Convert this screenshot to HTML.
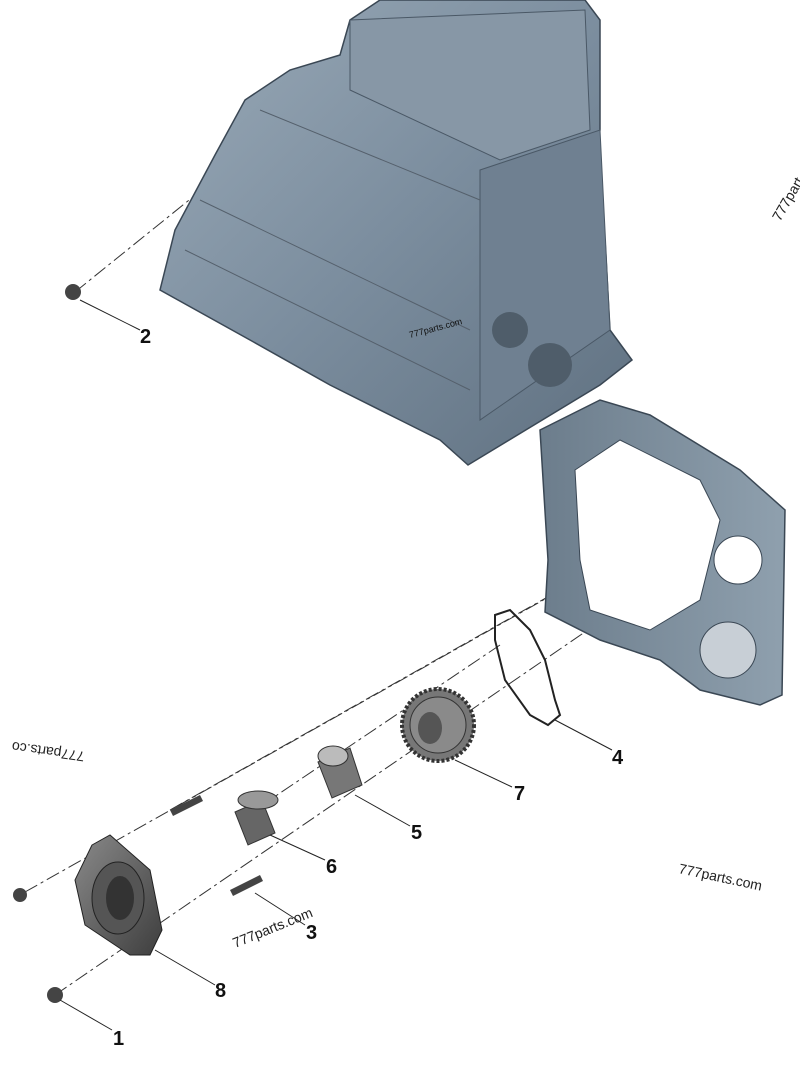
<!DOCTYPE html>
<html><head><style>
body{margin:0;background:#fff;width:800px;height:1067px;overflow:hidden}
svg{display:block}
.l{font:bold 20px "Liberation Sans",sans-serif;fill:#111}
.w{font:14px "Liberation Sans",sans-serif;fill:#222}
</style></head><body>
<svg width="800" height="1067" viewBox="0 0 800 1067">
<defs>
<linearGradient id="g1" x1="0" y1="0" x2="1" y2="1"><stop offset="0" stop-color="#9aaab8"/><stop offset="0.5" stop-color="#7b8d9e"/><stop offset="1" stop-color="#5f7080"/></linearGradient>
<linearGradient id="g2" x1="0" y1="0" x2="1" y2="0"><stop offset="0" stop-color="#6c7d8c"/><stop offset="1" stop-color="#8fa0ae"/></linearGradient>
<linearGradient id="g3" x1="0" y1="0" x2="1" y2="1"><stop offset="0" stop-color="#8a8a8a"/><stop offset="1" stop-color="#3e3e3e"/></linearGradient>
</defs>
<g stroke="#333" stroke-width="1" fill="none" stroke-dasharray="14,4,3,4">
<line x1="75" y1="292" x2="245" y2="155"/>
<line x1="25" y1="892" x2="712" y2="505"/>
<line x1="240" y1="820" x2="500" y2="645"/>
<line x1="55" y1="995" x2="690" y2="560"/>
<line x1="170" y1="810" x2="560" y2="590"/>
</g>
<!-- engine block -->
<path d="M245,100 L290,70 L340,55 L350,20 L380,0 L585,0 L600,20 L600,130 L590,190 L605,240 L610,330 L632,360 L600,385 L468,465 L440,440 L400,420 L330,385 L250,340 L160,290 L175,230 L215,155 Z" fill="url(#g1)" stroke="#3a4754" stroke-width="1.5"/>
<path d="M350,20 L585,10 L590,130 L500,160 L350,90 Z" fill="#8797a6" stroke="#4a5866"/>
<path d="M480,170 L600,130 L610,330 L480,420 Z" fill="#6f8091" stroke="#4a5866"/>
<circle cx="510" cy="330" r="18" fill="#4f5d6a"/><circle cx="550" cy="365" r="22" fill="#4f5d6a"/>
<path d="M200,200 L470,330 M185,250 L470,390 M260,110 L480,200" stroke="#55606c" fill="none"/>
<!-- timing cover -->
<path d="M540,430 L600,400 L650,415 L740,470 L785,510 L782,695 L760,705 L700,690 L660,660 L600,640 L545,612 L548,560 Z" fill="url(#g2)" stroke="#3a4754" stroke-width="1.5"/>
<path d="M575,470 L620,440 L700,480 L720,520 L700,600 L650,630 L590,610 L580,560 Z" fill="#fff" stroke="#3a4754"/>
<circle cx="738" cy="560" r="24" fill="#fff" stroke="#3a4754"/>
<circle cx="728" cy="650" r="28" fill="#c8cfd6" stroke="#3a4754"/>
<!-- gasket -->
<path d="M495,615 L510,610 L530,630 L545,660 L555,700 L560,715 L548,725 L530,715 L505,680 L495,640 Z" fill="none" stroke="#222" stroke-width="2"/>
<!-- gear -->
<circle cx="438" cy="725" r="36" fill="#777" stroke="#333" stroke-dasharray="3,2" stroke-width="4"/>
<circle cx="438" cy="725" r="28" fill="#8a8a8a" stroke="#333"/>
<ellipse cx="430" cy="728" rx="12" ry="16" fill="#555"/>
<!-- bushing 5 -->
<path d="M318,762 L350,748 L362,785 L332,798 Z" fill="#777" stroke="#333"/>
<ellipse cx="333" cy="756" rx="15" ry="10" fill="#bbb" stroke="#333"/>
<!-- bushing 6 -->
<path d="M235,812 L262,800 L275,833 L248,845 Z" fill="#666" stroke="#333"/>
<ellipse cx="258" cy="800" rx="20" ry="9" fill="#999" stroke="#333"/>
<!-- dowels -->
<path d="M170,810 L200,795 L203,801 L173,816 Z" fill="#444"/>
<path d="M230,890 L260,875 L263,881 L233,896 Z" fill="#444"/>
<!-- housing 8 -->
<path d="M92,845 L110,835 L150,870 L162,930 L150,955 L130,955 L85,925 L75,880 Z" fill="url(#g3)" stroke="#222"/>
<ellipse cx="118" cy="898" rx="26" ry="36" fill="#555" stroke="#222"/>
<ellipse cx="120" cy="898" rx="14" ry="22" fill="#333"/>
<!-- bolts -->
<circle cx="73" cy="292" r="8" fill="#444"/><circle cx="20" cy="895" r="7" fill="#444"/><circle cx="55" cy="995" r="8" fill="#444"/>
<!-- leaders -->
<g stroke="#222" stroke-width="1">
<line x1="80" y1="300" x2="140" y2="330"/>
<line x1="555" y1="720" x2="612" y2="750"/>
<line x1="455" y1="760" x2="512" y2="787"/>
<line x1="355" y1="795" x2="410" y2="826"/>
<line x1="270" y1="835" x2="325" y2="860"/>
<line x1="255" y1="893" x2="305" y2="925"/>
<line x1="155" y1="950" x2="215" y2="985"/>
<line x1="60" y1="1000" x2="112" y2="1030"/>
</g>
<text class="l" x="140" y="343">2</text>
<text class="l" x="612" y="764">4</text>
<text class="l" x="514" y="800">7</text>
<text class="l" x="411" y="839">5</text>
<text class="l" x="326" y="873">6</text>
<text class="l" x="306" y="939">3</text>
<text class="l" x="215" y="997">8</text>
<text class="l" x="113" y="1045">1</text>
<text class="w" x="678" y="873" transform="rotate(12 678 873)">777parts.com</text>
<text class="w" x="235" y="948" transform="rotate(-22 235 948)">777parts.com</text>
<text class="w" x="85" y="752" transform="rotate(188 85 752)">777parts.co</text>
<text class="w" x="780" y="222" transform="rotate(-60 780 222)">777part</text>
<text x="410" y="338" transform="rotate(-15 410 338)" style="font:9px 'Liberation Sans',sans-serif;fill:#111">777parts.com</text>
</svg>
</body></html>
